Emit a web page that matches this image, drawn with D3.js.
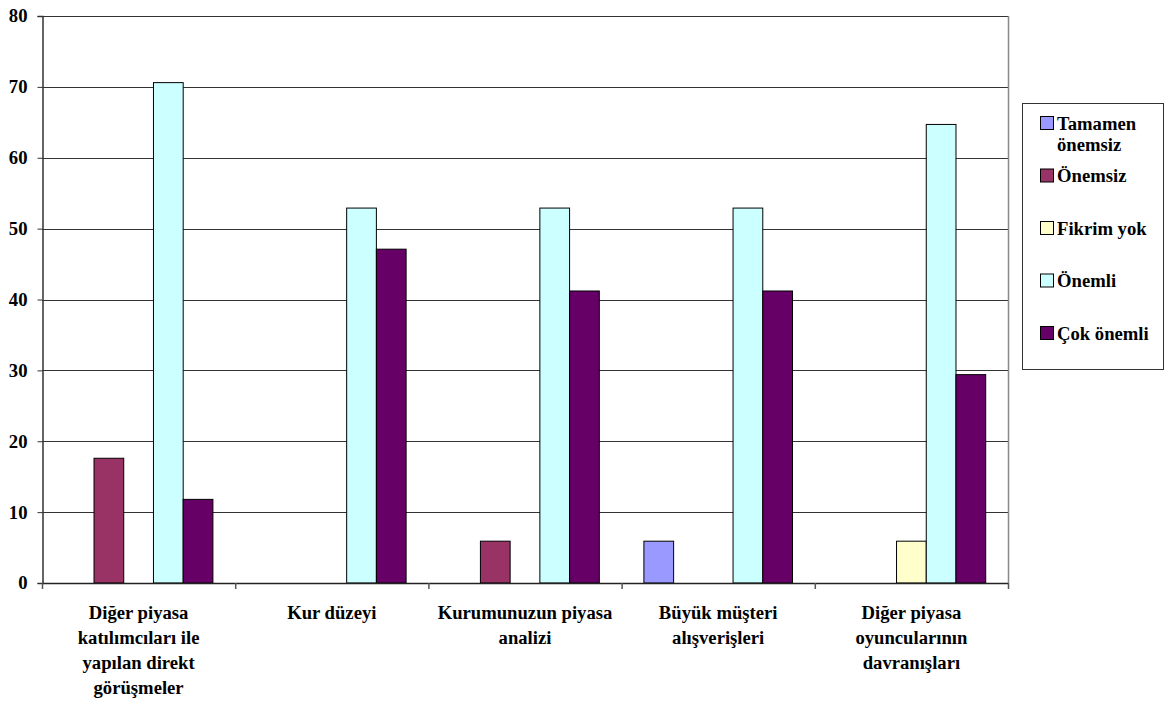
<!DOCTYPE html>
<html>
<head>
<meta charset="utf-8">
<script src="https://cdn.jsdelivr.net/npm/d3@7"></script>
<style>
  html, body { margin: 0; padding: 0; background: #fff; }
  svg { display: block; }
</style>
</head>
<body>
<svg id="chart" width="1165" height="702"></svg>
<script>
// Survey answers (% of respondents) per factor
const categories = [
  "Diğer piyasa\nkatılımcıları ile\nyapılan direkt\ngörüşmeler",
  "Kur düzeyi",
  "Kurumunuzun piyasa\nanalizi",
  "Büyük müşteri\nalışverişleri",
  "Diğer piyasa\noyuncularının\ndavranışları"
];
const seriesNames = ["Tamamen önemsiz", "Önemsiz", "Fikrim yok", "Önemli", "Çok önemli"];
const legendLabels = [["Tamamen", "önemsiz"], ["Önemsiz"], ["Fikrim yok"], ["Önemli"], ["Çok önemli"]];
const seriesColors = ["#9999FF", "#993366", "#FFFFCC", "#CCFFFF", "#660066"];

const tamamenOnemsiz = [0, 0, 0, 5.9, 0];
const onemsiz        = [17.6, 0, 5.9, 0, 0];
const fikrimYok      = [0, 0, 0, 0, 5.9];
const onemli         = [70.6, 52.9, 52.9, 52.9, 64.7];
const cokOnemli      = [11.8, 47.1, 41.2, 41.2, 29.4];
const seriesValues = [tamamenOnemsiz, onemsiz, fikrimYok, onemli, cokOnemli];

const yTicks = [0, 10, 20, 30, 40, 50, 60, 70, 80];

const FONT = "Liberation Serif";
const FS = 18.67; // 14pt
const svg = d3.select("#chart");
const plot = { left: 42, top: 16, right: 1008, bottom: 583 };

const x0 = d3.scaleBand().domain(d3.range(categories.length))
  .range([plot.left, plot.right]).padding(0);
const x1 = d3.scaleBand().domain(d3.range(seriesNames.length))
  .range([0, x0.bandwidth()]).paddingInner(0).paddingOuter(0.75);
const y = d3.scaleLinear().domain([0, 80]).range([plot.bottom, plot.top]);

// gridlines
svg.append("g").selectAll("line").data(yTicks.filter(d => d > 0)).join("line")
  .attr("x1", plot.left).attr("x2", plot.right)
  .attr("y1", d => Math.round(y(d)) + 0.5).attr("y2", d => Math.round(y(d)) + 0.5)
  .attr("stroke", "#333").attr("stroke-width", 1);

// right edge of plot area
svg.append("line")
  .attr("x1", plot.right + 0.5).attr("x2", plot.right + 0.5)
  .attr("y1", plot.top).attr("y2", plot.bottom)
  .attr("stroke", "#888").attr("stroke-width", 1.5);

// bars
const groups = svg.append("g").selectAll("g").data(categories).join("g")
  .attr("transform", (d, i) => `translate(${x0(i)},0)`);
groups.selectAll("rect")
  .data((d, ci) => seriesValues.map((vals, si) => ({ si, v: vals[ci] })).filter(e => e.v > 0))
  .join("rect")
  .attr("x", e => x1(e.si))
  .attr("width", x1.bandwidth())
  .attr("y", e => y(e.v))
  .attr("height", e => y(0) - y(e.v))
  .attr("fill", e => seriesColors[e.si])
  .attr("stroke", "#000").attr("stroke-width", 1);

// y axis
const yAxis = svg.append("g")
  .attr("transform", `translate(${plot.left + 0.5},0)`)
  .call(d3.axisLeft(y).tickValues(yTicks).tickSize(5).tickPadding(10));
yAxis.attr("font-family", FONT).attr("font-size", FS).attr("font-weight", "bold");
yAxis.select(".domain").attr("stroke", "#333").attr("stroke-width", 1.5);
yAxis.selectAll(".tick line").attr("stroke", "#333");
yAxis.selectAll(".tick text")
  .attr("font-family", FONT).attr("font-weight", "bold").attr("font-size", FS)
  .attr("fill", "#000");

// x axis
const xb = d3.range(categories.length + 1).map(i => plot.left + i * x0.step());
const xa = svg.append("g");
xa.append("line").attr("x1", plot.left).attr("x2", plot.right)
  .attr("y1", plot.bottom + 0.5).attr("y2", plot.bottom + 0.5)
  .attr("stroke", "#222").attr("stroke-width", 1.5);
xa.selectAll("line.tk").data(xb).join("line").attr("class", "tk")
  .attr("x1", d => d + 0.5).attr("x2", d => d + 0.5)
  .attr("y1", plot.bottom).attr("y2", plot.bottom + 6)
  .attr("stroke", "#555").attr("stroke-width", 1.5);

// category labels, one text element per line
const catLines = categories.flatMap((c, ci) =>
  c.split("\n").map((t, li) => ({ t, ci, li })));
svg.append("g")
  .attr("font-family", FONT).attr("font-weight", "bold").attr("font-size", FS)
  .selectAll("text").data(catLines).join("text")
  .attr("text-anchor", "middle")
  .attr("font-family", FONT).attr("font-weight", "bold").attr("font-size", FS)
  .attr("fill", "#000")
  .attr("x", d => x0(d.ci) + x0.bandwidth() / 2)
  .attr("y", d => 619 + d.li * 25)
  .text(d => d.t);

// legend
const lg = { x: 1022, y: 103, w: 141, h: 266 };
svg.append("rect").attr("x", lg.x + 0.5).attr("y", lg.y + 0.5)
  .attr("width", lg.w).attr("height", lg.h)
  .attr("fill", "#fff").attr("stroke", "#333").attr("stroke-width", 1);
const rowStep = 52.5;
const items = svg.append("g")
  .attr("font-family", FONT).attr("font-weight", "bold").attr("font-size", FS)
  .selectAll("g").data(seriesNames).join("g")
  .attr("transform", (d, i) => `translate(${lg.x + 18},${lg.y + 20 + i * rowStep})`);
items.append("rect").attr("x", 0.5).attr("y", -6.5).attr("width", 13).attr("height", 13)
  .attr("fill", (d, i) => seriesColors[i]).attr("stroke", "#000").attr("stroke-width", 1);
items.selectAll("text").data((d, i) => legendLabels[i]).join("text")
  .attr("x", 17).attr("y", (d, i) => 6.5 + i * 21)
  .attr("font-family", FONT).attr("font-weight", "bold").attr("font-size", FS)
  .attr("fill", "#000")
  .text(d => d);
</script>
</body>
</html>
